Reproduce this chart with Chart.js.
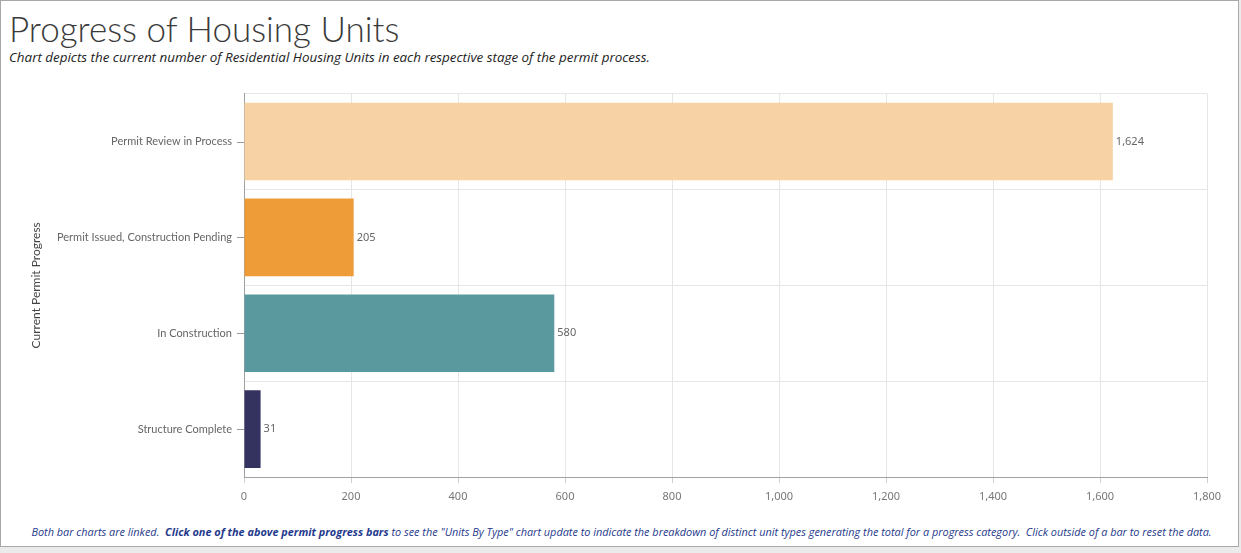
<!DOCTYPE html>
<html>
<head>
<meta charset="utf-8">
<script src="https://cdn.jsdelivr.net/npm/chart.js@4"></script>
<style>
  body { margin: 0; background: #ebebeb; width: 1241px; height: 553px; overflow: hidden; }
  #card { position: absolute; left: 0; top: 0; width: 1237px; height: 545px; background: #fff; border: 1px solid #a8a8a8; }
  #title { position: absolute; left: 8px; top: 6px; font-family: "Lato", sans-serif; font-weight: 300; font-size: 35px; color: #3a3a3a; white-space: nowrap; }
  #subtitle { position: absolute; left: 8px; top: 47px; font-family: "Open Sans", sans-serif; font-style: italic; font-size: 13.4px; color: #222; white-space: nowrap; }
  #wrap { position: absolute; left: 0; top: 74px; width: 1230px; height: 430px; }
  #footer { position: absolute; left: 0; width: 1241px; top: 523px; text-align: center; font-family: "Open Sans", sans-serif; font-style: italic; font-size: 10.9px; color: #1f3a8c; white-space: nowrap; }
</style>
</head>
<body>
<div id="card">
  <div id="title">Progress of Housing Units</div>
  <div id="subtitle">Chart depicts the current number of Residential Housing Units in each respective stage of the permit process.</div>
  <div id="wrap"><canvas id="chart"></canvas></div>
  <div id="footer">Both bar charts are linked.&nbsp; <b>Click one of the above permit progress bars</b> to see the "Units By Type" chart update to indicate the breakdown of distinct unit types generating the total for a progress category.&nbsp; Click outside of a bar to reset the data.</div>
</div>
<script>
const stages = ["Permit Review in Process", "Permit Issued, Construction Pending", "In Construction", "Structure Complete"];
const units = [1624, 205, 580, 31];
const barColors = ["#f6d2a5", "#ee9c38", "#5a999e", "#34325f"];
const xTicks = [0, 200, 400, 600, 800, 1000, 1200, 1400, 1600, 1800];

const ctx = document.getElementById("chart").getContext("2d");

// value labels at bar ends + tick marks at category centres
const barExtras = {
  id: "barExtras",
  afterDatasetsDraw(chart) {
    const c = chart.ctx;
    const meta = chart.getDatasetMeta(0);
    c.save();
    c.font = "11px 'Noto Sans', sans-serif";
    c.fillStyle = "#666";
    c.textAlign = "left";
    c.textBaseline = "middle";
    meta.data.forEach((bar, i) => {
      c.fillText(units[i].toLocaleString("en-US"), bar.x + 3, bar.y);
    });
    const y = chart.scales.y;
    c.strokeStyle = "#999";
    c.lineWidth = 1;
    stages.forEach((s, i) => {
      const py = Math.round(y.getPixelForTick(i)) + 0.5;
      c.beginPath();
      c.moveTo(y.right - 7, py);
      c.lineTo(y.right, py);
      c.stroke();
    });
    c.restore();
  }
};

new Chart(ctx, {
  type: "bar",
  data: {
    labels: stages,
    datasets: [{
      data: units,
      backgroundColor: barColors,
      barPercentage: 0.81,
      categoryPercentage: 1
    }]
  },
  options: {
    indexAxis: "y",
    responsive: true,
    maintainAspectRatio: false,
    animation: false,
    layout: { padding: { top: 9, right: 24, bottom: 0, left: 0 } },
    plugins: { legend: { display: false }, tooltip: { enabled: false } },
    scales: {
      x: {
        min: 0,
        max: 1800,
        afterBuildTicks: s => { s.ticks = xTicks.map(v => ({ value: v })); },
        afterFit: s => { s.height = 28; },
        grid: { color: "#e6e6e6", tickColor: "#cfcfcf", tickLength: 6 },
        border: { color: "#a0a0a0" },
        ticks: {
          color: "#777",
          font: { family: "'Noto Sans', sans-serif", size: 11 },
          padding: 7,
          callback: v => v.toLocaleString("en-US")
        }
      },
      y: {
        afterFit: s => { s.width = 243; },
        grid: { color: "#e6e6e6", offset: true, drawTicks: false },
        border: { color: "#a0a0a0" },
        ticks: {
          color: "#666",
          font: { family: "'Lato', sans-serif", size: 11 },
          padding: 12
        },
        title: {
          display: true,
          text: "Current Permit Progress",
          color: "#444",
          font: { family: "'Lato', sans-serif", size: 12 },
          padding: { top: 28, bottom: 0 }
        }
      }
    }
  },
  plugins: [barExtras]
});
</script>
</body>
</html>
